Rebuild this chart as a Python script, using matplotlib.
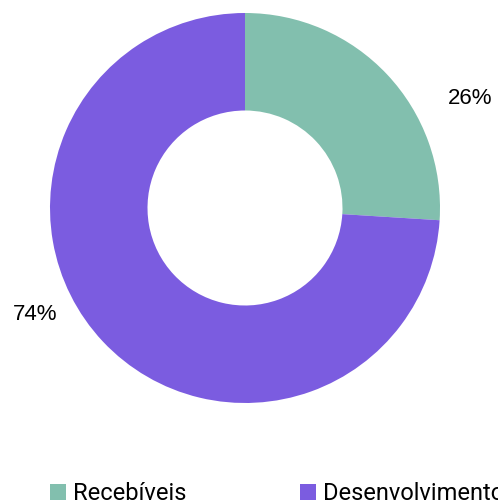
import matplotlib
matplotlib.use("Agg")
import matplotlib.pyplot as plt

categories = ["Recebíveis", "Desenvolvimento"]
values = [26, 74]
colors = ["#82BFAE", "#7B5CE0"]
pct_labels = ["26%", "74%"]
# label positions in units of outer radius
label_pos = [(1.154, 0.564), (-1.077, -0.544)]

W, H = 498, 500
fig = plt.figure(figsize=(W / 100, H / 100), dpi=100)
cx, cy, r = 245, 208, 195
ax = fig.add_axes([(cx - r) / W, (H - cy - r) / H, 2 * r / W, 2 * r / H])

wedges, _ = ax.pie(values, colors=colors, startangle=90, counterclock=False,
                   radius=1.0, wedgeprops=dict(width=0.5, linewidth=0))
ax.set_xlim(-1, 1)
ax.set_ylim(-1, 1)
ax.set_aspect("equal")
ax.axis("off")

for txt, (x, y) in zip(pct_labels, label_pos):
    ax.text(x, y, txt, ha="center", va="center", fontsize=16,
            family="Liberation Sans", color="#000000", clip_on=False)

leg = fig.legend(wedges, categories, loc="upper left",
                 bbox_to_anchor=(50 / W, 1 - 482 / H), ncol=2, frameon=False,
                 prop={"family": "Roboto", "size": 17},
                 handlelength=0.68, handleheight=0.68, handletextpad=0.3,
                 columnspacing=4.8, borderaxespad=0, borderpad=0)

fig.savefig("out.png", dpi=100)
